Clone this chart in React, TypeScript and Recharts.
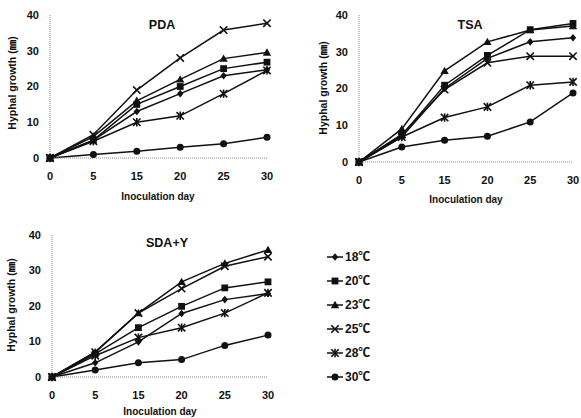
import React from 'react';
import { LineChart, Line, XAxis, YAxis } from 'recharts';

const days = ['0', '5', '15', '20', '25', '30'];
const temps = ['18℃', '20℃', '23℃', '25℃', '28℃', '30℃'];
const yTicks = [0, 10, 20, 30, 40];

const pda18 = [0, 5, 13, 18, 23, 24.7];
const pda20 = [0, 5, 15, 20, 25, 26.8];
const pda23 = [0, 6, 16, 22, 27.8, 29.5];
const pda25 = [0, 6.5, 19, 28, 35.8, 37.7];
const pda28 = [0, 4.7, 10, 11.8, 18, 24.5];
const pda30 = [0, 1, 1.9, 3, 4, 5.8];

const tsa18 = [0, 6.8, 20, 28.2, 32.7, 33.8];
const tsa20 = [0, 7.3, 20.9, 29, 36, 37.7];
const tsa23 = [0, 9, 24.8, 32.7, 35.9, 37];
const tsa25 = [0, 7.5, 19.7, 27, 28.8, 28.8];
const tsa28 = [0, 6.8, 12.1, 15, 20.9, 21.8];
const tsa30 = [0, 4.1, 5.9, 7, 10.9, 18.8];

const sda18 = [0, 4, 9.9, 17.9, 21.8, 23.5];
const sda20 = [0, 6.5, 13.9, 19.9, 25.1, 26.8];
const sda23 = [0, 7, 18, 26.8, 32, 35.8];
const sda25 = [0, 7, 18, 24.9, 31.2, 33.9];
const sda28 = [0, 6, 11.1, 13.9, 18, 23.7];
const sda30 = [0, 2, 4, 4.9, 8.9, 11.8];

const keys = ['t18', 't20', 't23', 't25', 't28', 't30'];
const shapes = ['diamond', 'square', 'triangle', 'x', 'star', 'circle'];

function table(rows: number[][]) {
  return days.map((d, i) => {
    const o: any = { day: d };
    keys.forEach((k, j) => (o[k] = rows[j][i]));
    return o;
  });
}

const pdaData = table([pda18, pda20, pda23, pda25, pda28, pda30]);
const tsaData = table([tsa18, tsa20, tsa23, tsa25, tsa28, tsa30]);
const sdaData = table([sda18, sda20, sda23, sda25, sda28, sda30]);

const INK = '#111';
const FONT = '"Liberation Sans", Arial, "Noto Sans CJK KR", sans-serif';
const XH = 20;

function Marker({ shape, cx, cy }: { shape: string; cx: number; cy: number }) {
  switch (shape) {
    case 'diamond':
      return <polygon points={`${cx},${cy - 3.8} ${cx + 3.2},${cy} ${cx},${cy + 3.8} ${cx - 3.2},${cy}`} fill={INK} />;
    case 'square':
      return <rect x={cx - 3.4} y={cy - 3.4} width={6.8} height={6.8} fill={INK} />;
    case 'triangle':
      return <polygon points={`${cx},${cy - 4.2} ${cx + 4.2},${cy + 3.2} ${cx - 4.2},${cy + 3.2}`} fill={INK} />;
    case 'x':
      return (
        <g stroke={INK} strokeWidth={1.6}>
          <line x1={cx - 3.7} y1={cy - 3.7} x2={cx + 3.7} y2={cy + 3.7} />
          <line x1={cx - 3.7} y1={cy + 3.7} x2={cx + 3.7} y2={cy - 3.7} />
        </g>
      );
    case 'star':
      return (
        <g stroke={INK} strokeWidth={1.6}>
          <line x1={cx - 3.7} y1={cy - 3.7} x2={cx + 3.7} y2={cy + 3.7} />
          <line x1={cx - 3.7} y1={cy + 3.7} x2={cx + 3.7} y2={cy - 3.7} />
          <line x1={cx} y1={cy - 4.2} x2={cx} y2={cy + 4.2} />
        </g>
      );
    default:
      return <circle cx={cx} cy={cy} r={3.5} fill={INK} />;
  }
}

function makeDot(shape: string) {
  return (p: any) => (
    <g key={`${shape}-${p.index}`}>
      <Marker shape={shape} cx={p.cx} cy={p.cy} />
    </g>
  );
}

type PanelProps = {
  left: number; top: number; w: number; h: number;
  x0: number; x1: number; y0: number; y1: number;
  data: any[];
};

function Panel({ left, top, w, h, x0, x1, y0, y1, data }: PanelProps) {
  return (
    <div style={{ position: 'absolute', left, top, width: w, height: h }}>
      <LineChart
        width={w}
        height={h}
        data={data}
        margin={{ top: y0 - top, bottom: top + h - y1 - XH, left: 0, right: left + w - x1 }}
      >
        <XAxis
          dataKey="day"
          type="category"
          height={XH}
          padding={{ left: 0, right: 0 }}
          axisLine={{ stroke: '#888', strokeDasharray: '1 1' }}
          tickLine={false}
          tickSize={6}
          tickMargin={8}
          interval={0}
          tick={{ fill: INK, fontSize: 11, fontWeight: 700, fontFamily: FONT }}
        />
        <YAxis
          width={x0 - left}
          domain={[0, 40]}
          ticks={yTicks}
          axisLine={{ stroke: '#888', strokeDasharray: '1 1' }}
          tickLine={false}
          tickSize={6}
          tickMargin={5}
          tick={{ fill: INK, fontSize: 11, fontWeight: 700, fontFamily: FONT }}
        />
        {keys.map((k, i) => (
          <Line
            key={k}
            dataKey={k}
            stroke={INK}
            strokeWidth={1.5}
            isAnimationActive={false}
            dot={makeDot(shapes[i])}
            activeDot={false}
          />
        ))}
      </LineChart>
    </div>
  );
}

function Txt({ x, y, children, size = 10, rotate = false }: any) {
  return (
    <div
      style={{
        position: 'absolute',
        left: x,
        top: y,
        transform: `translate(-50%, -50%)${rotate ? ' rotate(-90deg)' : ''}`,
        whiteSpace: 'nowrap',
        fontFamily: FONT,
        fontWeight: 700,
        fontSize: size,
        color: INK,
        lineHeight: 1,
      }}
    >
      {children}
    </div>
  );
}

export default function App() {
  const legendY = [257, 281, 305, 329, 353, 377];
  return (
    <div style={{ position: 'absolute', left: 0, top: 0, width: 581, height: 418, background: '#fff', overflow: 'hidden' }}>
      <Panel left={0} top={0} w={290} h={210} x0={50} x1={267} y0={15} y1={158} data={pdaData} />
      <Panel left={290} top={0} w={291} h={210} x0={359} x1={573} y0={15} y1={162} data={tsaData} />
      <Panel left={0} top={210} w={290} h={208} x0={52} x1={268} y0={235} y1={377} data={sdaData} />

      <Txt x={162} y={25} size={12.5}>PDA</Txt>
      <Txt x={470} y={25} size={12.5}>TSA</Txt>
      <Txt x={167} y={243} size={12.5}>SDA+Y</Txt>

      <Txt x={12} y={83} size={10.5} rotate>Hyphal growth (㎜)</Txt>
      <Txt x={323} y={88} size={10.5} rotate>Hyphal growth (㎜)</Txt>
      <Txt x={11} y={305} size={10.5} rotate>Hyphal growth (㎜)</Txt>

      <Txt x={158} y={197}>Inoculation day</Txt>
      <Txt x={466} y={200}>Inoculation day</Txt>
      <Txt x={160} y={412}>Inoculation day</Txt>

      <svg style={{ position: 'absolute', left: 320, top: 245 }} width={30} height={145}>
        {legendY.map((y, i) => (
          <g key={i}>
            <line x1={7} x2={23} y1={y - 245} y2={y - 245} stroke={INK} strokeWidth={1.5} />
            <Marker shape={shapes[i]} cx={15} cy={y - 245} />
          </g>
        ))}
      </svg>
      {temps.map((t, i) => (
        <div
          key={t}
          style={{
            position: 'absolute',
            left: 345,
            top: legendY[i] - 7,
            fontFamily: FONT,
            fontWeight: 700,
            fontSize: 12,
            color: INK,
            lineHeight: '14px',
            whiteSpace: 'nowrap',
          }}
        >
          {t}
        </div>
      ))}
    </div>
  );
}
